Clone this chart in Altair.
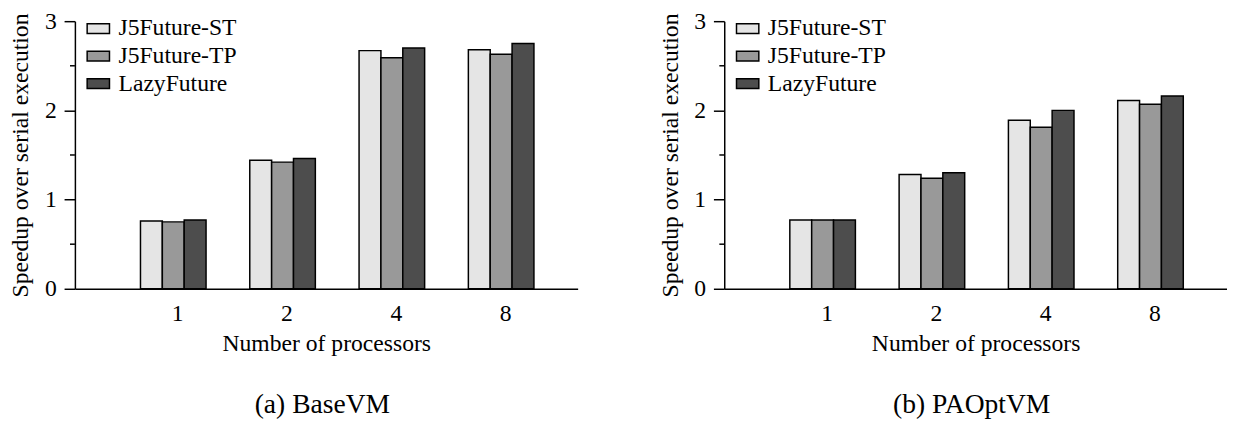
import altair as alt
import pandas as pd

FONT = "Liberation Serif"

processors = ["1", "2", "4", "8"]
series = ["J5Future-ST", "J5Future-TP", "LazyFuture"]
colors = ["#e5e5e5", "#999999", "#4d4d4d"]

# Panel (a) BaseVM
base_st = [0.76, 1.44, 2.67, 2.68]
base_tp = [0.75, 1.42, 2.59, 2.63]
base_lazy = [0.77, 1.46, 2.70, 2.75]

# Panel (b) PAOptVM
opt_st = [0.77, 1.28, 1.89, 2.11]
opt_tp = [0.77, 1.24, 1.81, 2.07]
opt_lazy = [0.77, 1.30, 2.00, 2.16]

y_major = [0, 1, 2, 3]
y_minor = [0.5, 1.5, 2.5]

BAR = 0.2  # bar width in x-index units


def make_df(vals):
    rows = []
    for s_i, (name, arr) in enumerate(zip(series, vals)):
        for g_i, (p, v) in enumerate(zip(processors, arr)):
            rows.append({"proc": p, "g": g_i + 1, "series": name, "s": s_i, "v": v})
    return pd.DataFrame(rows)


label_expr = "[''," + ",".join("'%s'" % p for p in processors) + "][datum.value]"


def panel(vals, caption):
    df = make_df(vals)
    xscale = alt.Scale(domain=[0.1, 4.7], nice=False, zero=False)
    yscale = alt.Scale(domain=[0, 3], nice=False)
    yaxis = alt.Axis(values=y_major, format="d", tickSize=11, tickColor="black",
                     tickWidth=1.5, grid=False, domainColor="black", domainWidth=1.5,
                     labelFont=FONT, labelFontSize=24, labelColor="black",
                     labelPadding=8,
                     title="Speedup over serial execution",
                     titleFont=FONT, titleFontSize=24, titleFontWeight="normal",
                     titleColor="black", titlePadding=12)
    bars = alt.Chart(df).transform_calculate(
        xl="datum.g + (datum.s - 1) * %f - %f" % (BAR, BAR / 2),
        xr="datum.g + (datum.s - 1) * %f + %f" % (BAR, BAR / 2),
        base="0",
    ).mark_bar(stroke="black", strokeWidth=1.5, opacity=1).encode(
        x=alt.X("xl:Q", scale=xscale,
                axis=alt.Axis(values=[1, 2, 3, 4], labelExpr=label_expr,
                              title="Number of processors", ticks=False,
                              grid=False, domainColor="black", domainWidth=1.5,
                              labelFont=FONT, labelFontSize=24, labelColor="black",
                              labelPadding=13, labelOffset=4,
                              titleFont=FONT, titleFontSize=24, titleFontWeight="normal",
                              titleColor="black", titlePadding=7)),
        x2="xr:Q",
        y=alt.Y("v:Q", scale=yscale, axis=yaxis),
        y2="base:Q",
        color=alt.Color("series:N", scale=alt.Scale(domain=series, range=colors),
                        legend=alt.Legend(orient="none", legendX=11.3, legendY=-5,
                                          title=None, padding=0,
                                          symbolType="M-1,-0.44L1,-0.44L1,0.44L-1,0.44Z",
                                          symbolSize=515, symbolStrokeColor="black",
                                          symbolStrokeWidth=1.5, symbolOpacity=1,
                                          labelFont=FONT, labelFontSize=24,
                                          labelColor="black", labelOffset=8,
                                          rowPadding=3)),
    )
    minor = alt.Chart(pd.DataFrame({"m": y_minor})).mark_rule(
        color="black", strokeWidth=1.5
    ).encode(
        y=alt.Y("m:Q", scale=yscale, axis=yaxis),
        x=alt.value(-5),
        x2=alt.value(0),
    )
    return alt.layer(bars, minor).properties(
        width=511, height=272,
        title=alt.Title(caption, orient="bottom", anchor="middle", frame="group",
                        font=FONT, fontSize=28, fontWeight="normal", color="black",
                        offset=36, dx=-4),
    )


chart = alt.hconcat(
    panel([base_st, base_tp, base_lazy], "(a) BaseVM"),
    panel([opt_st, opt_tp, opt_lazy], "(b) PAOptVM"),
    spacing=81,
).resolve_scale(color="independent").properties(
    padding={"left": 0, "top": -2, "right": 0, "bottom": 0}
).configure_view(stroke=None)

chart.save("out.html", embed_options={"renderer": "svg", "actions": False})
